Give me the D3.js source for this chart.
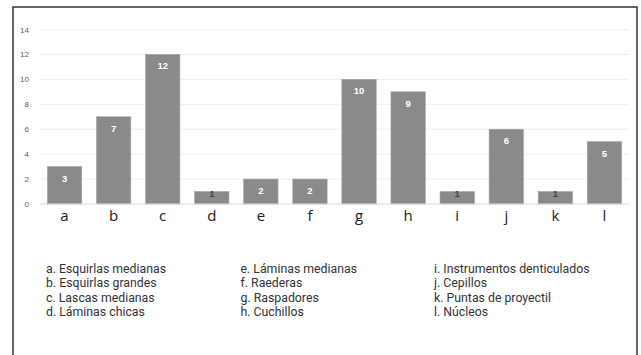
<!DOCTYPE html>
<html><head><meta charset="utf-8">
<script src="https://cdn.jsdelivr.net/npm/d3@7"></script>
<style>body{margin:0;background:#fff}svg{display:block}</style>
</head><body>
<script>
// Artefact counts per category
const categories = ["a","b","c","d","e","f","g","h","i","j","k","l"];
const values = [3,7,12,1,2,2,10,9,1,6,1,5];
const yTicks = [0,2,4,6,8,10,12,14];
const legendNames = [
  "a. Esquirlas medianas","b. Esquirlas grandes","c. Lascas medianas","d. Láminas chicas",
  "e. Láminas medianas","f. Raederas","g. Raspadores","h. Cuchillos",
  "i. Instrumentos denticulados","j. Cepillos","k. Puntas de proyectil","l. Núcleos"
];

const W = 641, H = 355;
const svg = d3.select("body").append("svg").attr("width", W).attr("height", H);

// outer frame
svg.append("rect").attr("x", 13).attr("y", 7).attr("width", 624).attr("height", 370)
  .attr("fill", "none").attr("stroke", "#333").attr("stroke-width", 1.5);

const x = d3.scaleBand().domain(categories).range([40, 629]).paddingInner(0.3).paddingOuter(0.15);
const y = d3.scaleLinear().domain([0, 14]).range([204, 29.5]);

// gridlines
svg.append("g").selectAll("line").data(yTicks.filter(t => t > 0)).join("line")
  .attr("x1", 40).attr("x2", 629)
  .attr("y1", d => y(d)).attr("y2", d => y(d))
  .attr("stroke", "#efefef").attr("stroke-width", 1);

// y axis labels
const yAxis = svg.append("g").attr("transform", "translate(32,0)")
  .call(d3.axisLeft(y).tickValues(yTicks).tickSize(0).tickPadding(3));
yAxis.select(".domain").remove();
yAxis.selectAll("text").attr("font-family", "Liberation Sans, Arial, sans-serif")
  .attr("font-size", 8).attr("fill", "#595959");

// bars
svg.append("g").selectAll("rect").data(values).join("rect")
  .attr("x", (d, i) => x(categories[i]))
  .attr("y", d => y(d))
  .attr("width", x.bandwidth())
  .attr("height", d => y(0) - y(d))
  .attr("fill", "#8a8a8a")
  .attr("stroke", "#a3a3a3").attr("stroke-width", 0.6);

// baseline
svg.append("line").attr("x1", 40).attr("x2", 629).attr("y1", y(0)).attr("y2", y(0))
  .attr("stroke", "#d9d9d9").attr("stroke-width", 1);

// value labels
svg.append("g").selectAll("text").data(values).join("text")
  .attr("x", (d, i) => x(categories[i]) + x.bandwidth() / 2)
  .attr("y", d => d > 1 ? y(d) + 15 : y(d) + 5)
  .attr("text-anchor", "middle")
  .attr("font-family", "Liberation Sans, Arial, sans-serif")
  .attr("font-weight", "bold").attr("font-size", 9.5)
  .attr("fill", d => d > 1 ? "#fff" : "#444")
  .text(d => d);

// x axis category labels
const xAxis = svg.append("g").attr("transform", `translate(0,${y(0)})`)
  .call(d3.axisBottom(x).tickSize(0));
xAxis.select(".domain").remove();
xAxis.selectAll("text").attr("y", 17).attr("dy", 0)
  .attr("font-family", "Open Sans, sans-serif")
  .attr("font-size", 15).attr("fill", "#222");

// legend in three columns
const colX = [46, 240.5, 434];
svg.append("g").selectAll("text").data(legendNames).join("text")
  .attr("x", (d, i) => colX[Math.floor(i / 4)])
  .attr("y", (d, i) => 272.5 + (i % 4) * 14.6)
  .attr("font-family", "Roboto, sans-serif")
  .attr("font-size", 12.3).attr("fill", "#333")
  .text(d => d);
</script>
</body></html>
